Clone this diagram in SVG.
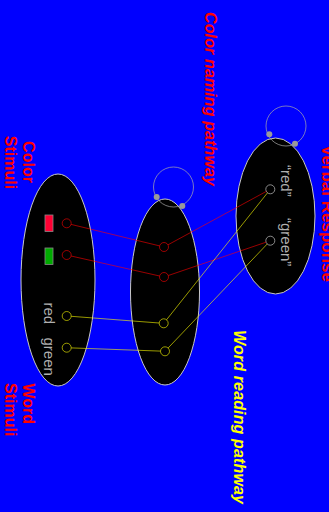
<svg xmlns="http://www.w3.org/2000/svg" width="329" height="512" viewBox="0 0 329 512">
<style>
.bg{fill:#0000ff}
.ell{fill:#000;stroke:#c8c8c8;stroke-width:1}
.loop{fill:none;stroke:#aaaaaa;stroke-opacity:0.7;stroke-width:1}
.dot{fill:#9a9a9a}
.rn{fill:none;stroke:#ff0000;stroke-opacity:0.6;stroke-width:1}
.yn{fill:none;stroke:#ffff00;stroke-opacity:0.6;stroke-width:1}
.gn{fill:none;stroke:#aaaaaa;stroke-opacity:0.8;stroke-width:1}
.rl{stroke:#ff0000;stroke-opacity:0.6;stroke-width:1;fill:none}
.yl{stroke:#ffff00;stroke-opacity:0.6;stroke-width:1;fill:none}
.lbl{font-family:"Liberation Sans",Arial,sans-serif;font-weight:bold;font-size:16px}
.red{fill:#ff0000}
.yel{fill:#ffff00}
.it{font-style:italic}
.gt{font-family:"Liberation Sans",Arial,sans-serif;font-size:15px;fill:#b0b0b0}
</style>
<rect class="bg" x="0" y="0" width="329" height="512"/>

<g id="stimuli-layer">
  <ellipse class="ell" cx="58" cy="280" rx="37" ry="106"/>
  <rect x="45" y="215" width="8" height="16.5" fill="#ff0033" stroke="#888" stroke-width="0.8"/>
  <rect x="45" y="248" width="8" height="16.5" fill="#00aa00" stroke="#888" stroke-width="0.8"/>
  <text class="gt" transform="translate(43.5,302.5) rotate(90)">red</text>
  <text class="gt" transform="translate(43.5,337.5) rotate(90)">green</text>
  <circle class="rn" cx="66.7" cy="223.3" r="4.5"/>
  <circle class="rn" cx="66.7" cy="255" r="4.5"/>
  <circle class="yn" cx="66.7" cy="316" r="4.5"/>
  <circle class="yn" cx="66.7" cy="347.7" r="4.5"/>
</g>

<g id="hidden-layer">
  <ellipse class="ell" cx="165" cy="292" rx="34.5" ry="93"/>
  <circle class="loop" cx="173.5" cy="187" r="20"/>
  <circle class="dot" cx="156.7" cy="197" r="3"/>
  <circle class="dot" cx="182.3" cy="206" r="3"/>
  <circle class="rn" cx="164" cy="247" r="4.5"/>
  <circle class="rn" cx="164" cy="277" r="4.5"/>
  <circle class="yn" cx="163.7" cy="323.3" r="4.5"/>
  <circle class="yn" cx="165" cy="351.3" r="4.5"/>
</g>

<g id="response-layer">
  <ellipse class="ell" cx="275.5" cy="216" rx="39.5" ry="78"/>
  <circle class="loop" cx="286" cy="126" r="20"/>
  <circle class="dot" cx="269.3" cy="134.3" r="3"/>
  <circle class="dot" cx="295" cy="143.7" r="3"/>
  <text class="gt" transform="translate(280.5,165) rotate(90)">“red”</text>
  <text class="gt" transform="translate(280.5,218) rotate(90)">“green”</text>
  <circle class="gn" cx="270.3" cy="189.3" r="4.5"/>
  <circle class="gn" cx="270.3" cy="240.7" r="4.5"/>
</g>

<g id="connectors">
  <line class="rl" x1="71.1" y1="224.4" x2="159.6" y2="245.9"/>
  <line class="rl" x1="71.1" y1="256" x2="159.6" y2="276"/>
  <line class="yl" x1="71.2" y1="316.3" x2="159.2" y2="323"/>
  <line class="yl" x1="71.2" y1="347.9" x2="160.5" y2="351.1"/>
  <line class="rl" x1="168" y1="244.8" x2="266.3" y2="191.4"/>
  <line class="rl" x1="168.3" y1="275.5" x2="266" y2="242.2"/>
  <line class="yl" x1="166.5" y1="319.8" x2="267.5" y2="192.8"/>
  <line class="yl" x1="168.1" y1="348" x2="267.2" y2="244"/>
</g>

<g id="labels">
  <text class="lbl red it" transform="translate(205,12) rotate(90)" textLength="174" lengthAdjust="spacing">Color naming pathway</text>
  <text class="lbl yel it" transform="translate(234,330) rotate(90)" textLength="174" lengthAdjust="spacing">Word reading pathway</text>
  <text class="lbl red" text-anchor="middle" transform="translate(22.5,162) rotate(90)">Color</text>
  <text class="lbl red" text-anchor="middle" transform="translate(5,162.5) rotate(90)">Stimuli</text>
  <text class="lbl red" transform="translate(22.5,383.5) rotate(90)">Word</text>
  <text class="lbl red" transform="translate(5,383) rotate(90)">Stimuli</text>
  <text class="lbl red" transform="translate(321.5,145) rotate(90)" style="font-size:17px">Verbal Response</text>
</g>
</svg>
